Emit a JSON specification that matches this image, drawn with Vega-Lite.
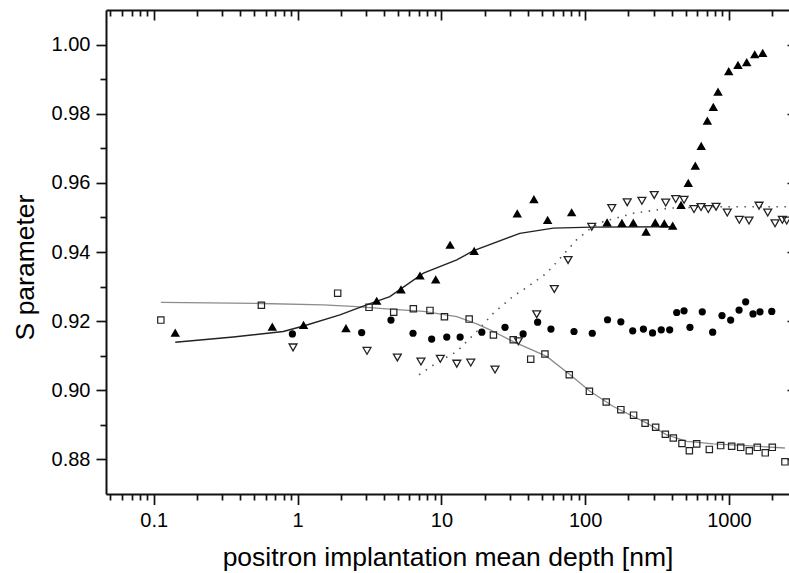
{
  "$schema": "https://vega.github.io/schema/vega-lite/v6.json",
  "width": 683,
  "height": 484,
  "autosize": {"type": "none"},
  "padding": {"left": 106, "top": 10, "right": 0, "bottom": 79},
  "background": "white",
  "config": {
    "view": {"stroke": null},
    "axis": {
      "labelFont": "Liberation Sans",
      "titleFont": "Liberation Sans",
      "labelColor": "#000",
      "titleColor": "#000",
      "domainColor": "#111",
      "tickColor": "#111",
      "domainWidth": 2,
      "tickWidth": 1.7,
      "labelFontSize": 20,
      "titleFontSize": 26.5,
      "titleFontWeight": "normal",
      "grid": false
    }
  },
  "datasets": {
    "tri": [
      {"x": 0.141, "y": 0.9167}, {"x": 0.667, "y": 0.9184}, {"x": 1.1, "y": 0.9189}, {"x": 2.17, "y": 0.918},
      {"x": 3.55, "y": 0.9259}, {"x": 5.24, "y": 0.9292}, {"x": 7.1, "y": 0.9332}, {"x": 9.13, "y": 0.9321},
      {"x": 11.5, "y": 0.9421}, {"x": 16.9, "y": 0.9403}, {"x": 33.7, "y": 0.9512}, {"x": 44, "y": 0.9553},
      {"x": 54.8, "y": 0.9493}, {"x": 80.5, "y": 0.9515}, {"x": 142, "y": 0.9486}, {"x": 180, "y": 0.9484},
      {"x": 216, "y": 0.9485}, {"x": 265, "y": 0.9459}, {"x": 307, "y": 0.9486}, {"x": 355, "y": 0.9483},
      {"x": 406, "y": 0.9476}, {"x": 464, "y": 0.9536}, {"x": 521, "y": 0.96}, {"x": 583, "y": 0.965},
      {"x": 641, "y": 0.9707}, {"x": 707, "y": 0.978}, {"x": 778, "y": 0.982}, {"x": 839, "y": 0.9864},
      {"x": 996, "y": 0.9923}, {"x": 1155, "y": 0.9941}, {"x": 1328, "y": 0.9949}, {"x": 1510, "y": 0.9972},
      {"x": 1716, "y": 0.9976}
    ],
    "sq": [
      {"x": 0.112, "y": 0.9203}, {"x": 0.56, "y": 0.9246}, {"x": 1.9, "y": 0.9281}, {"x": 3.14, "y": 0.924},
      {"x": 4.66, "y": 0.9226}, {"x": 6.38, "y": 0.9236}, {"x": 8.33, "y": 0.9231}, {"x": 10.5, "y": 0.9213},
      {"x": 15.6, "y": 0.9206}, {"x": 23, "y": 0.916}, {"x": 31.6, "y": 0.9146}, {"x": 41.8, "y": 0.909},
      {"x": 52.5, "y": 0.9105}, {"x": 77.5, "y": 0.9045}, {"x": 107, "y": 0.8997}, {"x": 140, "y": 0.8966},
      {"x": 177, "y": 0.8944}, {"x": 217, "y": 0.8928}, {"x": 261, "y": 0.8905}, {"x": 309, "y": 0.8893},
      {"x": 361, "y": 0.8873}, {"x": 410, "y": 0.8862}, {"x": 471, "y": 0.8846}, {"x": 530, "y": 0.8825},
      {"x": 596, "y": 0.8845}, {"x": 730, "y": 0.8829}, {"x": 875, "y": 0.884}, {"x": 1044, "y": 0.8838},
      {"x": 1206, "y": 0.8835}, {"x": 1384, "y": 0.8825}, {"x": 1573, "y": 0.8835}, {"x": 1787, "y": 0.8819},
      {"x": 2000, "y": 0.8835}, {"x": 2450, "y": 0.8793}
    ],
    "circ": [
      {"x": 0.92, "y": 0.9163}, {"x": 2.79, "y": 0.9167}, {"x": 4.46, "y": 0.9203}, {"x": 6.35, "y": 0.9165},
      {"x": 8.56, "y": 0.9148}, {"x": 10.9, "y": 0.9154}, {"x": 13.5, "y": 0.9154}, {"x": 19.1, "y": 0.9168},
      {"x": 27.7, "y": 0.9182}, {"x": 37, "y": 0.9163}, {"x": 46.7, "y": 0.9197}, {"x": 57.8, "y": 0.9177},
      {"x": 83.6, "y": 0.917}, {"x": 112, "y": 0.9165}, {"x": 143, "y": 0.9204}, {"x": 177, "y": 0.9198},
      {"x": 214, "y": 0.9172}, {"x": 254, "y": 0.9177}, {"x": 294, "y": 0.9166}, {"x": 338, "y": 0.9175},
      {"x": 387, "y": 0.9175}, {"x": 433, "y": 0.9225}, {"x": 487, "y": 0.923}, {"x": 535, "y": 0.9182},
      {"x": 652, "y": 0.9227}, {"x": 770, "y": 0.9168}, {"x": 894, "y": 0.9216}, {"x": 1027, "y": 0.9203},
      {"x": 1175, "y": 0.9232}, {"x": 1306, "y": 0.9256}, {"x": 1469, "y": 0.9221}, {"x": 1643, "y": 0.9227},
      {"x": 1983, "y": 0.9228}
    ],
    "dtri": [
      {"x": 0.93, "y": 0.9124}, {"x": 3.04, "y": 0.9114}, {"x": 4.94, "y": 0.9095}, {"x": 7.21, "y": 0.9083},
      {"x": 9.83, "y": 0.9091}, {"x": 12.8, "y": 0.9077}, {"x": 16.0, "y": 0.908}, {"x": 23.6, "y": 0.906},
      {"x": 34.3, "y": 0.9142}, {"x": 46, "y": 0.922}, {"x": 61, "y": 0.9293}, {"x": 76, "y": 0.9377},
      {"x": 111, "y": 0.9473}, {"x": 153, "y": 0.9527}, {"x": 196, "y": 0.9544}, {"x": 248, "y": 0.9548},
      {"x": 302, "y": 0.9565}, {"x": 363, "y": 0.9543}, {"x": 426, "y": 0.9553}, {"x": 487, "y": 0.9551},
      {"x": 571, "y": 0.9524}, {"x": 639, "y": 0.953}, {"x": 718, "y": 0.9524}, {"x": 813, "y": 0.9531},
      {"x": 973, "y": 0.9514}, {"x": 1180, "y": 0.9493}, {"x": 1378, "y": 0.9491}, {"x": 1618, "y": 0.9534},
      {"x": 1859, "y": 0.9514}, {"x": 2090, "y": 0.9483}, {"x": 2350, "y": 0.9493}, {"x": 2520, "y": 0.9491}
    ],
    "fitTri": [
      {"x": 0.141, "y": 0.9139}, {"x": 0.357, "y": 0.9154}, {"x": 0.795, "y": 0.917}, {"x": 1.1, "y": 0.9186},
      {"x": 1.97, "y": 0.9218}, {"x": 3.02, "y": 0.9247}, {"x": 4.38, "y": 0.9271}, {"x": 7.5, "y": 0.9339},
      {"x": 12.8, "y": 0.9377}, {"x": 16.6, "y": 0.9403}, {"x": 35.1, "y": 0.9454}, {"x": 60, "y": 0.9469},
      {"x": 111, "y": 0.9472}, {"x": 410, "y": 0.9473}
    ],
    "fitSq": [
      {"x": 0.112, "y": 0.9254}, {"x": 0.56, "y": 0.9251}, {"x": 1.51, "y": 0.9247}, {"x": 2.58, "y": 0.9242},
      {"x": 4.38, "y": 0.9235}, {"x": 7.5, "y": 0.9228}, {"x": 12.8, "y": 0.9213}, {"x": 17.6, "y": 0.9192},
      {"x": 21.8, "y": 0.9175}, {"x": 31.6, "y": 0.9141}, {"x": 54, "y": 0.9098}, {"x": 78.5, "y": 0.9045},
      {"x": 108, "y": 0.8997}, {"x": 157, "y": 0.8953}, {"x": 268, "y": 0.8905}, {"x": 369, "y": 0.8871},
      {"x": 510, "y": 0.8852}, {"x": 779, "y": 0.8845}, {"x": 1320, "y": 0.884}, {"x": 2450, "y": 0.8833}
    ],
    "fitD": [
      {"x": 7.0, "y": 0.9045}, {"x": 9.3, "y": 0.908}, {"x": 12.8, "y": 0.9112}, {"x": 17.6, "y": 0.917},
      {"x": 23, "y": 0.9223}, {"x": 31.6, "y": 0.9272}, {"x": 40, "y": 0.93}, {"x": 54, "y": 0.9339},
      {"x": 68, "y": 0.9385}, {"x": 87, "y": 0.9435}, {"x": 111, "y": 0.9471}, {"x": 134, "y": 0.9488},
      {"x": 216, "y": 0.9512}, {"x": 389, "y": 0.9527}, {"x": 800, "y": 0.9531}, {"x": 2614, "y": 0.9531}
    ]
  },
  "layer": [
    {
      "data": {"name": "fitD"},
      "mark": {"type": "line", "color": "#555", "strokeWidth": 1.6, "strokeDash": [1.5, 6.5]},
      "encoding": {
        "x": {"field": "x", "type": "quantitative",
          "scale": {"type": "log", "domain": [0.04653, 2614], "nice": false},
          "axis": {"orient": "bottom", "values": [0.1, 1, 10, 100, 1000], "format": "~g",
            "tickSize": 10.5, "labelPadding": 6, "labelFlush": false, "labelOverlap": false,
            "title": "positron implantation mean depth [nm]", "titleY": 71, "titleBaseline": "alphabetic"}},
        "y": {"field": "y", "type": "quantitative",
          "scale": {"domain": [0.87, 1.01], "nice": false, "zero": false},
          "axis": {"orient": "left", "values": [0.88, 0.9, 0.92, 0.94, 0.96, 0.98, 1.0], "format": ".2f",
            "tickSize": 10, "labelPadding": 6, "labelOverlap": false, "labelFlush": false,
            "title": "S parameter", "titleX": -73, "titleY": 257, "titleAngle": -90,
            "titleAlign": "center", "titleBaseline": "alphabetic"}}
      }
    },
    {
      "data": {"name": "fitSq"},
      "mark": {"type": "line", "color": "#8c8c8c", "strokeWidth": 1.3},
      "encoding": {
        "x": {"field": "x", "type": "quantitative",
          "scale": {"type": "log", "domain": [0.04653, 2614], "nice": false},
          "axis": {"orient": "bottom", "values": [0.05, 0.06, 0.07, 0.08, 0.09, 0.2, 0.3, 0.4, 0.5, 0.6, 0.7, 0.8, 0.9, 2, 3, 4, 5, 6, 7, 8, 9, 20, 30, 40, 50, 60, 70, 80, 90, 200, 300, 400, 500, 600, 700, 800, 900, 2000],
            "tickSize": 6, "labels": false, "domain": false, "title": null}},
        "y": {"field": "y", "type": "quantitative",
          "scale": {"domain": [0.87, 1.01], "nice": false, "zero": false},
          "axis": {"orient": "left", "values": [0.89, 0.91, 0.93, 0.95, 0.97, 0.99],
            "tickSize": 6, "labels": false, "domain": false, "title": null}}
      }
    },
    {
      "data": {"name": "fitTri"},
      "mark": {"type": "line", "color": "#222", "strokeWidth": 1.4},
      "encoding": {
        "x": {"field": "x", "type": "quantitative",
          "scale": {"type": "log", "domain": [0.04653, 2614], "nice": false},
          "axis": {"orient": "top", "values": [0.1, 1, 10, 100, 1000],
            "tickSize": -10, "labels": false, "domain": true, "title": null}},
        "y": {"field": "y", "type": "quantitative",
          "scale": {"domain": [0.87, 1.01], "nice": false, "zero": false},
          "axis": {"orient": "right", "values": [0.88, 0.9, 0.92, 0.94, 0.96, 0.98, 1.0],
            "tickSize": -2, "labels": false, "domain": false, "title": null}}
      }
    },
    {
      "data": {"name": "sq"},
      "mark": {"type": "point", "shape": "square", "filled": false, "color": "#222", "strokeWidth": 1.2, "size": 40, "opacity": 1},
      "encoding": {
        "x": {"field": "x", "type": "quantitative",
          "scale": {"type": "log", "domain": [0.04653, 2614], "nice": false},
          "axis": {"orient": "top", "values": [0.05, 0.06, 0.07, 0.08, 0.09, 0.2, 0.3, 0.4, 0.5, 0.6, 0.7, 0.8, 0.9, 2, 3, 4, 5, 6, 7, 8, 9, 20, 30, 40, 50, 60, 70, 80, 90, 200, 300, 400, 500, 600, 700, 800, 900, 2000],
            "tickSize": -6, "labels": false, "domain": false, "title": null}},
        "y": {"field": "y", "type": "quantitative",
          "scale": {"domain": [0.87, 1.01], "nice": false, "zero": false}, "axis": null}
      }
    },
    {
      "data": {"name": "circ"},
      "mark": {"type": "point", "shape": "circle", "filled": true, "color": "#000", "size": 52, "opacity": 1},
      "encoding": {
        "x": {"field": "x", "type": "quantitative",
          "scale": {"type": "log", "domain": [0.04653, 2614], "nice": false}, "axis": null},
        "y": {"field": "y", "type": "quantitative",
          "scale": {"domain": [0.87, 1.01], "nice": false, "zero": false}, "axis": null}
      }
    },
    {
      "data": {"name": "dtri"},
      "mark": {"type": "point", "shape": "triangle-down", "filled": false, "color": "#222", "strokeWidth": 1.3, "size": 62, "opacity": 1},
      "encoding": {
        "x": {"field": "x", "type": "quantitative",
          "scale": {"type": "log", "domain": [0.04653, 2614], "nice": false}, "axis": null},
        "y": {"field": "y", "type": "quantitative",
          "scale": {"domain": [0.87, 1.01], "nice": false, "zero": false}, "axis": null}
      }
    },
    {
      "data": {"name": "tri"},
      "mark": {"type": "point", "shape": "triangle-up", "filled": true, "color": "#000", "size": 90, "opacity": 1},
      "encoding": {
        "x": {"field": "x", "type": "quantitative",
          "scale": {"type": "log", "domain": [0.04653, 2614], "nice": false}, "axis": null},
        "y": {"field": "y", "type": "quantitative",
          "scale": {"domain": [0.87, 1.01], "nice": false, "zero": false}, "axis": null}
      }
    }
  ],
  "resolve": {"axis": {"x": "independent", "y": "independent"}}
}
